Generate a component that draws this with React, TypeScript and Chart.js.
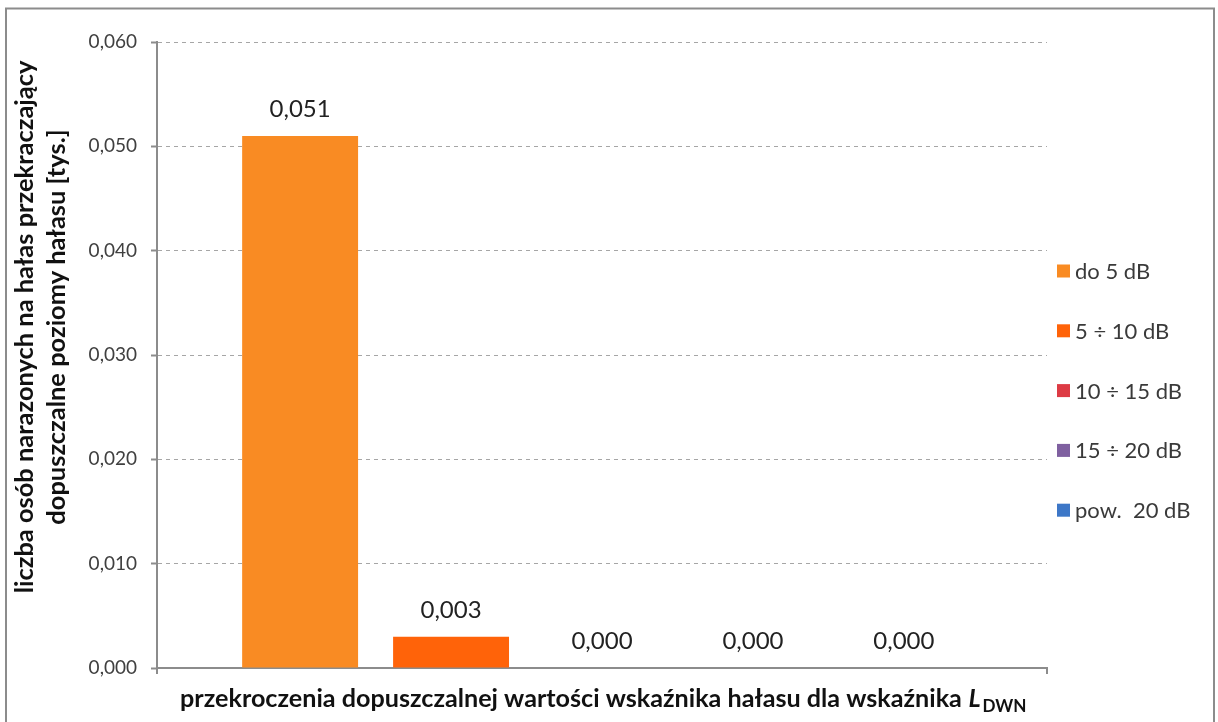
import React, { useEffect, useRef } from 'react';
import { Chart, registerables } from 'chart.js';

Chart.register(...registerables);

const categories = ['przekroczenia'];
const seriesLabels = ['do 5 dB', '5 ÷ 10 dB', '10 ÷ 15 dB', '15 ÷ 20 dB', 'pow.  20 dB'];
const seriesValues = [0.051, 0.003, 0.0, 0.0, 0.0];
const seriesColors = ['#F98B23', '#FF6309', '#DD3B44', '#7F60A0', '#3D77C7'];
const yMin = 0;
const yMax = 0.06;
const yStep = 0.01;
const yTitleLines = ['liczba osób narazonych na hałas przekraczający', 'dopuszczalne poziomy hałasu [tys.]'];
const xTitleMain = 'przekroczenia dopuszczalnej wartości wskaźnika hałasu dla wskaźnika ';
const xTitleItalic = 'L';
const xTitleSub = 'DWN';

const FONT = 'Lato, "Open Sans", sans-serif';
const fmt = (v: number) => v.toFixed(3).replace('.', ',');

const framePlugin = {
  id: 'frame',
  beforeDraw(chart: any) {
    const ctx = chart.ctx;
    ctx.save();
    ctx.fillStyle = '#ffffff';
    ctx.fillRect(0, 0, chart.width, chart.height);
    ctx.strokeStyle = '#8c8c8c';
    ctx.lineWidth = 2;
    ctx.beginPath();
    ctx.moveTo(6, chart.height + 10);
    ctx.lineTo(6, 8.5);
    ctx.lineTo(1214, 8.5);
    ctx.lineTo(1214, chart.height + 10);
    ctx.stroke();
    ctx.restore();
  },
};

const dataLabelPlugin = {
  id: 'dataLabels',
  afterDatasetsDraw(chart: any) {
    const ctx = chart.ctx;
    ctx.save();
    ctx.font = `24px ${FONT}`;
    ctx.fillStyle = '#222222';
    ctx.textAlign = 'center';
    ctx.textBaseline = 'alphabetic';
    chart.data.datasets.forEach((ds: any, i: number) => {
      const meta = chart.getDatasetMeta(i);
      const el = meta.data[0];
      if (!el) return;
      ctx.fillText(fmt(ds.data[0]), el.x, el.y - 19);
    });
    ctx.restore();
  },
};

const legendPlugin = {
  id: 'customLegend',
  afterDraw(chart: any) {
    const ctx = chart.ctx;
    ctx.save();
    ctx.font = `22px ${FONT}`;
    ctx.textBaseline = 'middle';
    ctx.textAlign = 'left';
    chart.data.datasets.forEach((ds: any, i: number) => {
      const cy = 271 + i * 59.8;
      ctx.fillStyle = ds.backgroundColor;
      ctx.fillRect(1057, cy - 6.5, 13, 13);
      ctx.fillStyle = '#3a3a3a';
      ctx.fillText(ds.label, 1075, cy + 1);
    });
    ctx.restore();
  },
};

const titlesPlugin = {
  id: 'axisTitles',
  afterDraw(chart: any) {
    const ctx = chart.ctx;
    ctx.save();
    ctx.fillStyle = '#111111';
    // Y title
    ctx.font = `bold 100px ${FONT}`;
    const w1 = ctx.measureText(yTitleLines[0]).width;
    const ySize = (100 * 533) / w1;
    ctx.font = `bold ${ySize}px ${FONT}`;
    ctx.textAlign = 'center';
    ctx.textBaseline = 'alphabetic';
    const baselines = [33, 65];
    yTitleLines.forEach((line, i) => {
      ctx.save();
      ctx.translate(baselines[i], 327);
      ctx.rotate(-Math.PI / 2);
      ctx.fillText(line, 0, 0);
      ctx.restore();
    });
    // X title
    const subRatio = 0.68;
    ctx.font = `bold 100px ${FONT}`;
    const a = ctx.measureText(xTitleMain).width;
    ctx.font = `italic bold 100px ${FONT}`;
    const b = ctx.measureText(xTitleItalic).width;
    ctx.font = `bold ${100 * subRatio}px ${FONT}`;
    const c = ctx.measureText(xTitleSub).width;
    const xSize = (100 * 845) / (a + b + c + 2);
    const k = xSize / 100;
    let x = 180;
    const base = 707;
    ctx.textAlign = 'left';
    ctx.font = `bold ${xSize}px ${FONT}`;
    ctx.fillText(xTitleMain, x, base);
    x += a * k;
    ctx.font = `italic bold ${xSize}px ${FONT}`;
    ctx.fillText(xTitleItalic, x, base);
    x += b * k + 2;
    ctx.font = `bold ${xSize * subRatio}px ${FONT}`;
    ctx.fillText(xTitleSub, x, base + 5);
    ctx.restore();
  },
};

export default function App() {
  const ref = useRef<HTMLCanvasElement>(null);
  useEffect(() => {
    if (!ref.current) return;
    const chart = new Chart(ref.current, {
      type: 'bar',
      data: {
        labels: categories,
        datasets: seriesLabels.map((label, i) => ({
          label,
          data: [seriesValues[i]],
          backgroundColor: seriesColors[i],
          borderWidth: 0,
          barPercentage: 0.768,
          categoryPercentage: 0.848,
        })),
      },
      options: {
        responsive: false,
        devicePixelRatio: 1,
        animation: false,
        layout: { padding: { left: 0, top: 42, right: 171, bottom: 48 } },
        plugins: {
          legend: { display: false },
          tooltip: { enabled: false },
        },
        scales: {
          x: {
            type: 'category',
            offset: true,
            grid: {
              display: true,
              drawOnChartArea: false,
              drawTicks: true,
              tickLength: 6,
              color: '#8c8c8c',
              lineWidth: 2,
              offset: true,
            },
            border: { display: true, color: '#8c8c8c', width: 2 },
            ticks: { display: false },
            afterFit: (s: any) => {
              s.height = 6;
            },
          },
          y: {
            min: yMin,
            max: yMax,
            ticks: {
              stepSize: yStep,
              padding: 14,
              color: '#404040',
              font: { family: FONT, size: 19 },
              callback: (v: any) => fmt(Number(v)),
            },
            grid: {
              color: '#a6a6a6',
              lineWidth: 1,
              drawTicks: true,
              tickLength: 6,
              tickColor: '#8c8c8c',
              tickWidth: 2,
              tickBorderDash: [],
            },
            border: { display: true, color: '#8c8c8c', width: 2, dash: [4, 4] },
            afterFit: (s: any) => {
              s.width = 157;
            },
          },
        },
      },
      plugins: [framePlugin, dataLabelPlugin, legendPlugin, titlesPlugin],
    } as any);
    return () => chart.destroy();
  }, []);
  return (
    <div style={{ position: 'fixed', left: 0, top: 0, width: 1218, height: 722, background: '#fff' }}>
      <canvas ref={ref} width={1218} height={722} style={{ display: 'block' }} />
    </div>
  );
}
